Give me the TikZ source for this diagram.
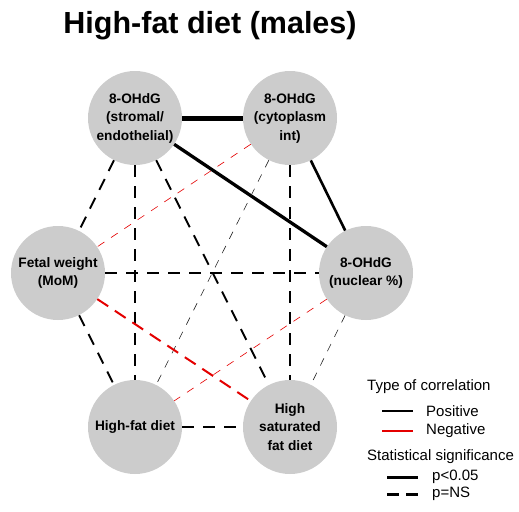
\documentclass[tikz,border=0pt]{standalone}
\usepackage{fontspec}
\setmainfont{Liberation Sans}
\definecolor{nodegray}{RGB}{204,204,204}
\definecolor{negred}{RGB}{228,0,0}
\begin{document}
\begin{tikzpicture}[x=1pt,y=-1pt,
  vtx/.style={circle, fill=nodegray, minimum size=94pt, inner sep=0pt, align=center,
    font=\fontsize{13.7}{18.5}\selectfont\bfseries},
  lgtext/.style={anchor=west, inner sep=0pt, font=\fontsize{15}{18}\selectfont},
  strongpos/.style={line width=#1, black},
  nsmed/.style={line width=1.9pt, black, dash pattern=on 12pt off 9pt},
  nsthin/.style={line width=0.6pt, black!85, dash pattern=on 8pt off 8pt},
  negmed/.style={line width=2pt, negred, dash pattern=on 13pt off 8pt},
  negthin/.style={line width=0.6pt, negred, dash pattern=on 8pt off 8pt}
]
\useasboundingbox (0,0) rectangle (519,511);
\node[font=\fontsize{30.5}{36}\selectfont\bfseries] (title) at (210,26) {High-fat diet (males)};

\node[vtx] (A) at (135,118) {8-OHdG\\(stromal/\\endothelial)};
\node[vtx] (B) at (290,118) {8-OHdG\\(cytoplasm\\int)};
\node[vtx] (D) at (58,273) {Fetal weight\\(MoM)};
\node[vtx] (C) at (366,273) {8-OHdG\\(nuclear \%)};
\node[vtx] (E) at (135,427) {High-fat diet};
\node[vtx] (F) at (290,427) {High\\saturated\\fat diet};

\draw[strongpos=5pt] (A) -- (B);
\draw[strongpos=3.3pt] (A) -- (C);
\draw[strongpos=2.6pt] (B) -- (C);
\draw[nsmed] (A) -- (D);
\draw[nsmed] (A) -- (E);
\draw[nsmed] (A) -- (F);
\draw[negthin] (B) -- (D);
\draw[nsthin] (B) -- (E);
\draw[nsmed] (B) -- (F);
\draw[nsmed] (D) -- (C);
\draw[nsmed] (D) -- (E);
\draw[negmed] (D) -- (F);
\draw[negthin] (C) -- (E);
\draw[nsthin] (C) -- (F);
\draw[nsmed] (E) -- (F);

\node[lgtext] (lt1) at (367,387) {Type of correlation};
\coordinate (pa) at (382,411); \coordinate (pb) at (413,411);
\draw[line width=2pt, black] (pa) -- (pb);
\node[lgtext] (lpos) at (426,411) {Positive};
\coordinate (na) at (382,431); \coordinate (nb) at (413,431);
\draw[line width=2pt, negred] (na) -- (nb);
\node[lgtext] (lneg) at (426,431) {Negative};
\node[lgtext] (lt2) at (367,457) {Statistical significance};
\coordinate (sa) at (387,477); \coordinate (sb) at (418,477);
\draw[line width=3pt, black] (sa) -- (sb);
\node[lgtext] (lsig) at (432,477) {p<0.05};
\coordinate (ua) at (387,494); \coordinate (ub) at (418,494);
\draw[line width=3pt, black, dash pattern=on 12pt off 7pt] (ua) -- (ub);
\node[lgtext] (lns) at (432,494) {p=NS};
\end{tikzpicture}
\end{document}
